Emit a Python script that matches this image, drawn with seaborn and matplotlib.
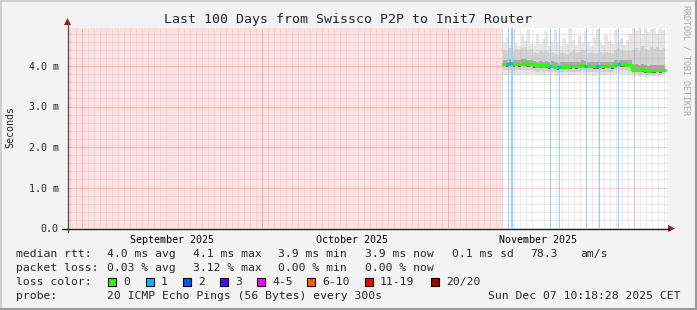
import matplotlib
matplotlib.use("Agg")
import matplotlib.pyplot as plt
import matplotlib.dates as mdates
from matplotlib.ticker import MultipleLocator, FixedLocator
from matplotlib.patches import Rectangle, Polygon
from matplotlib.lines import Line2D
import pandas as pd
import seaborn as sns

# ---------------- data ----------------
title = "Last 100 Days from Swissco P2P to Init7 Router"
axis_start = pd.Timestamp("2025-08-29 13:00")
axis_end = pd.Timestamp("2025-12-07 13:00")
data_start = pd.Timestamp("2025-11-10 06:00")

median_ms = [4.06, 4.05, 4.07, 4.04, 4.06, 4.05, 4.06, 4.07, 4.05, 4.06,
             4.02, 4.01, 4.02, 4.01, 4.02, 4.00, 4.01, 3.98, 3.97, 3.98,
             3.99, 3.98, 3.99, 4.00, 3.99, 4.00, 4.03, 4.01, 4.00, 4.00,
             3.99, 3.99, 4.00, 3.99, 4.00, 4.00, 3.99, 4.04, 4.05, 4.04,
             4.04, 4.03, 4.03, 3.91, 3.91, 3.90, 3.92, 3.89, 3.88, 3.89,
             3.89, 3.90, 3.89, 3.90]
loss_count = [0, 1, 1, 0, 0, 0, 0, 0, 0, 0,
              0, 0, 0, 0, 0, 1, 0, 0, 1, 0,
              0, 0, 0, 0, 0, 0, 0, 1, 0, 0,
              0, 1, 0, 0, 0, 0, 0, 0, 1, 0,
              0, 0, 0, 0, 0, 0, 0, 0, 0, 0,
              0, 0, 0, 0]
smoke_lo = [3.79, 3.78, 3.80, 3.77, 3.79, 3.78, 3.80, 3.79, 3.78, 3.80,
            3.77, 3.78, 3.79, 3.76, 3.78, 3.77, 3.79, 3.76, 3.75, 3.77,
            3.78, 3.76, 3.77, 3.79, 3.77, 3.78, 3.80, 3.78, 3.77, 3.79,
            3.76, 3.77, 3.78, 3.77, 3.79, 3.78, 3.77, 3.80, 3.81, 3.79,
            3.80, 3.78, 3.79, 3.74, 3.75, 3.73, 3.76, 3.74, 3.73, 3.75,
            3.74, 3.76, 3.74, 3.75]
smoke_p10 = [3.90, 3.89, 3.91, 3.88, 3.90, 3.89, 3.90, 3.91, 3.89, 3.90,
             3.87, 3.86, 3.87, 3.86, 3.87, 3.85, 3.86, 3.84, 3.83, 3.84,
             3.85, 3.84, 3.85, 3.86, 3.85, 3.86, 3.88, 3.86, 3.85, 3.86,
             3.85, 3.85, 3.86, 3.85, 3.86, 3.86, 3.85, 3.89, 3.90, 3.89,
             3.89, 3.88, 3.88, 3.80, 3.80, 3.79, 3.81, 3.79, 3.78, 3.79,
             3.79, 3.80, 3.79, 3.80]
smoke_p25 = [3.99, 3.98, 4.00, 3.97, 3.99, 3.98, 3.99, 4.00, 3.98, 3.99,
             3.95, 3.94, 3.95, 3.94, 3.95, 3.93, 3.94, 3.92, 3.91, 3.92,
             3.93, 3.92, 3.93, 3.94, 3.93, 3.94, 3.97, 3.95, 3.94, 3.94,
             3.93, 3.93, 3.94, 3.93, 3.94, 3.94, 3.93, 3.98, 3.99, 3.98,
             3.98, 3.97, 3.97, 3.85, 3.85, 3.84, 3.86, 3.83, 3.82, 3.83,
             3.83, 3.84, 3.83, 3.84]
smoke_p75 = [4.16, 4.15, 4.18, 4.14, 4.16, 4.15, 4.17, 4.18, 4.15, 4.16,
             4.12, 4.11, 4.13, 4.11, 4.12, 4.10, 4.12, 4.09, 4.08, 4.09,
             4.10, 4.09, 4.10, 4.11, 4.10, 4.11, 4.14, 4.12, 4.11, 4.11,
             4.10, 4.10, 4.11, 4.10, 4.11, 4.11, 4.10, 4.15, 4.16, 4.15,
             4.15, 4.14, 4.14, 4.03, 4.04, 4.02, 4.05, 4.02, 4.01, 4.02,
             4.02, 4.03, 4.02, 4.03]
smoke_p90 = [4.40, 4.38, 4.45, 4.36, 4.42, 4.39, 4.44, 4.46, 4.40, 4.41,
             4.35, 4.33, 4.38, 4.34, 4.36, 4.31, 4.35, 4.30, 4.28, 4.31,
             4.33, 4.30, 4.34, 4.36, 4.32, 4.34, 4.39, 4.36, 4.33, 4.34,
             4.31, 4.32, 4.35, 4.31, 4.34, 4.33, 4.32, 4.40, 4.41, 4.39,
             4.38, 4.37, 4.36, 4.40, 4.45, 4.38, 4.50, 4.42, 4.39, 4.46,
             4.41, 4.48, 4.40, 4.44]
smoke_hi = [4.58, 4.72, 4.52, 4.88, 4.56, 4.50, 4.76, 4.62, 4.92, 4.55,
            4.51, 4.78, 4.54, 4.66, 4.85, 4.50, 4.60, 4.90, 4.57, 4.49,
            4.70, 4.55, 4.94, 4.63, 4.52, 4.74, 4.56, 4.86, 4.60, 4.50,
            4.68, 4.92, 4.56, 4.51, 4.76, 4.62, 4.54, 4.88, 4.58, 4.70,
            4.53, 4.64, 4.80, 4.95, 4.86, 4.93, 4.78, 4.95, 4.84, 4.91,
            4.95, 4.80, 4.94, 4.88]

loss_events = ["2025-11-11 02:17", "2025-11-11 15:53", "2025-11-18 01:00",
               "2025-11-19 13:05", "2025-11-23 23:53", "2025-11-26 05:05",
               "2025-11-29 10:17"]
loss_event_width = [1, 2, 1, 1, 1, 1, 1]

y_ticks = [0, 1, 2, 3, 4]
y_tick_labels = ["0.0", "1.0 m", "2.0 m", "3.0 m", "4.0 m"]
month_label_dates = ["2025-09-16", "2025-10-16", "2025-11-16"]
month_labels = ["September 2025", "October 2025", "November 2025"]
major_grid_dates = ["2025-09-01", "2025-10-01", "2025-11-01", "2025-12-02"]

stats_rtt = ["median rtt:", "4.0 ms avg", "4.1 ms max", "3.9 ms min",
             "3.9 ms now", "0.1 ms sd", "78.3", "am/s"]
stats_loss = ["packet loss:", "0.03 % avg", "3.12 % max", "0.00 % min",
              "0.00 % now"]
loss_labels = ["0", "1", "2", "3", "4-5", "6-10", "11-19", "20/20"]
loss_colors = ["#26ff00", "#00b8ff", "#0059ff", "#5e00ff", "#ff00ff",
               "#ff5e00", "#ff0000", "#a10000"]
probe_text = "20 ICMP Echo Pings (56 Bytes) every 300s"
date_text = "Sun Dec 07 10:18:28 2025 CET"

# ---------------- figure ----------------
sns.set_style("white")
plt.rcParams["font.family"] = ["DejaVu Sans Mono"]
plt.rcParams["lines.scale_dashes"] = False

W, H = 697, 310
fig = plt.figure(figsize=(W / 100, H / 100), dpi=100)
fig.patch.set_facecolor("#f3f3f3")

def fx(px):
    return px / W

def fy(py):
    return 1 - py / H

L, R, T, B = 67, 667, 28, 228
ax = fig.add_axes([fx(L), fy(B), (R - L) / W, (B - T) / H])
ax.set_facecolor("white")

times = pd.date_range(data_start, periods=len(median_ms), freq="12h")
df = pd.DataFrame({"time": times, "median": median_ms, "loss": loss_count,
                   "lo": smoke_lo, "p10": smoke_p10, "p25": smoke_p25,
                   "p75": smoke_p75, "p90": smoke_p90, "hi": smoke_hi})
last = df.iloc[[-1]].copy()
last["time"] = last["time"] + pd.Timedelta(hours=12)
dfs = pd.concat([df, last], ignore_index=True)

# unknown (no data) region
ax.axvspan(axis_start, data_start, color="#ffdfdf", lw=0, zorder=0.6)

# smoke
ax.fill_between(dfs["time"], dfs["lo"], dfs["hi"], step="post", color="#e6e6e6", lw=0, zorder=1)
ax.fill_between(dfs["time"], dfs["p10"], dfs["p90"], step="post", color="#d2d2d2", lw=0, zorder=1.1)
ax.fill_between(dfs["time"], dfs["p25"], dfs["p75"], step="post", color="#a8a8a8", lw=0, zorder=1.2)
ax.fill_between(dfs["time"], dfs["p25"], dfs["median"], step="post", color="#666666", lw=0, zorder=1.3)

# loss ticks
for t, w in zip(loss_events, loss_event_width):
    ax.axvline(pd.Timestamp(t), color="#92d8f5", lw=0.72 * w, zorder=1.5, antialiased=False)

# median line
sns.lineplot(data=dfs, x="time", y="median", ax=ax, color=loss_colors[0],
             lw=2.2, drawstyle="steps-post", zorder=3, legend=False)
for i in range(len(df)):
    if df["loss"][i] > 0:
        t0 = df["time"][i]
        t1 = t0 + pd.Timedelta(hours=12)
        ax.plot([t0, t1], [df["median"][i]] * 2, color=loss_colors[1],
                lw=2.2, zorder=3.1, solid_capstyle="butt")

ax.set_xlim(axis_start, axis_end)
ax.set_ylim(0, (B - T) / 40.5)
ax.set_xlabel("")
ax.set_ylabel("")

# ticks & grids
ax.xaxis.set_major_locator(FixedLocator(mdates.date2num(pd.to_datetime(month_label_dates))))
ax.set_xticklabels(month_labels)
ax.xaxis.set_minor_locator(mdates.DayLocator())
ax.yaxis.set_major_locator(FixedLocator(y_ticks))
ax.set_yticklabels(y_tick_labels)
ax.yaxis.set_minor_locator(MultipleLocator(0.2))

dot = (0, (0.72, 0.72))
ax.grid(which="minor", axis="both", color="#b8b8b8", alpha=0.55, ls=dot, lw=0.72)
ax.grid(which="major", axis="y", color="#e06060", alpha=0.6, ls=dot, lw=0.72)
ax.grid(which="major", axis="x", visible=False)
for m in major_grid_dates:
    ax.axvline(pd.Timestamp(m), color="#e06060", alpha=0.6, ls=dot, lw=0.72, zorder=2.5)
ax.set_axisbelow(False)

ax.tick_params(axis="x", which="major", length=0, pad=5, labelsize=7.2, colors="#000000")
ax.tick_params(axis="x", which="minor", length=2, width=0.72, color="#b0b0b0", direction="out")
ax.tick_params(axis="y", which="major", length=4, width=0.72, color="#404040", pad=2,
               labelsize=7.2, direction="out")
ax.tick_params(axis="y", which="minor", length=2.5, width=0.72, color="#a0a0a0", direction="out")
for s in ax.spines.values():
    s.set_visible(False)

# axes lines with arrows
axis_col = "#202020"
arrow_col = "#9c1c1c"
fig.add_artist(Line2D([fx(L + 0.5), fx(L + 0.5)], [fy(B + 4), fy(23)], color="#505050", lw=0.9))
fig.add_artist(Line2D([fx(62), fx(669)], [fy(B + 0.5), fy(B + 0.5)], color=axis_col, lw=1.0))
fig.add_artist(Polygon([(fx(L + 0.5), fy(18)), (fx(L - 3), fy(25)), (fx(L + 4), fy(25))],
                       closed=True, color=arrow_col, lw=0))
fig.add_artist(Polygon([(fx(675), fy(B + 0.5)), (fx(668), fy(B - 3)), (fx(668), fy(B + 4))],
                       closed=True, color=arrow_col, lw=0))

# title / labels
fig.text(fx(348), fy(19), title, ha="center", va="center", fontsize=9.5)
fig.text(fx(10), fy(127), "Seconds", rotation=90, ha="center", va="center", fontsize=7.2)
fig.text(fx(686), fy(60), "RRDTOOL / TOBI OETIKER", rotation=270, ha="center",
         va="center", fontsize=6, color="#aaaaaa")

# legend / stats text
fs = 8.2
rtt_x = [16, 107, 193, 278, 365, 452, 530, 580]
for s, x in zip(stats_rtt, rtt_x):
    fig.text(fx(x), fy(254), s, ha="left", va="center", fontsize=fs)
loss_x = [16, 107, 193, 278, 365]
for s, x in zip(stats_loss, loss_x):
    fig.text(fx(x), fy(268), s, ha="left", va="center", fontsize=fs)
fig.text(fx(16), fy(282), "loss color:", ha="left", va="center", fontsize=fs)
box_x = [108, 146, 183, 220, 257, 307, 365, 431]
for lab, col, x in zip(loss_labels, loss_colors, box_x):
    fig.add_artist(Rectangle((fx(x), fy(286)), 8 / W, 8 / H, facecolor=col,
                             edgecolor="black", lw=0.8))
    fig.text(fx(x + 15), fy(282), lab, ha="left", va="center", fontsize=fs)
fig.text(fx(16), fy(296), "probe:", ha="left", va="center", fontsize=fs)
fig.text(fx(107), fy(296), probe_text, ha="left", va="center", fontsize=fs)
fig.text(fx(681), fy(296), date_text, ha="right", va="center", fontsize=fs)

# frame border
fig.add_artist(Line2D([0, 1], [fy(0.5), fy(0.5)], color="#cfcfcf", lw=1.5))
fig.add_artist(Line2D([fx(0.5), fx(0.5)], [0, 1], color="#cfcfcf", lw=1.5))
fig.add_artist(Line2D([0, 1], [fy(H - 1.2), fy(H - 1.2)], color="#9a9a9a", lw=2.2))
fig.add_artist(Line2D([fx(W - 1.2), fx(W - 1.2)], [0, 1], color="#9a9a9a", lw=2.2))

fig.savefig("out.png", dpi=100, facecolor=fig.get_facecolor())
